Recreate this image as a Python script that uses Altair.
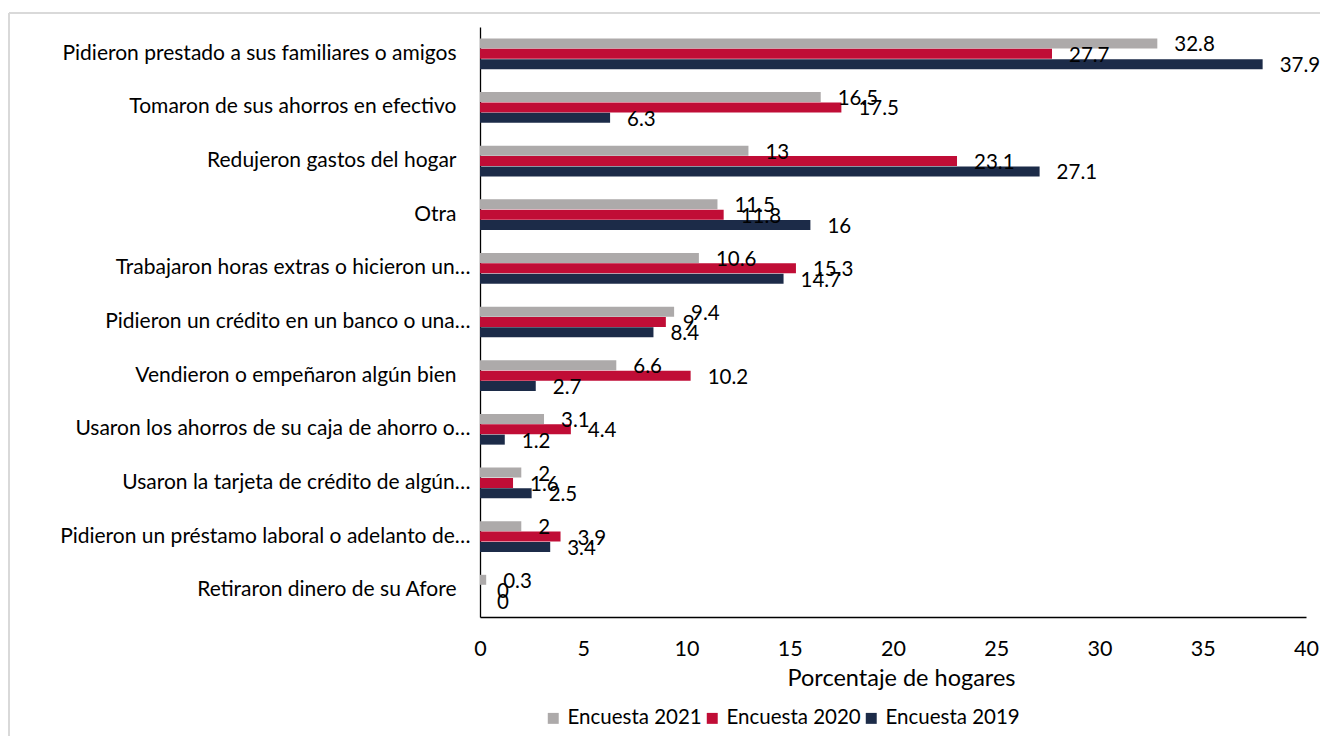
import altair as alt
import pandas as pd

categories = [
    "Pidieron prestado a sus familiares o amigos",
    "Tomaron de sus ahorros en efectivo",
    "Redujeron gastos del hogar",
    "Otra",
    "Trabajaron horas extras o hicieron un…",
    "Pidieron un crédito en un banco o una…",
    "Vendieron o empeñaron algún bien",
    "Usaron los ahorros de su caja de ahorro o…",
    "Usaron la tarjeta de crédito de algún…",
    "Pidieron un préstamo laboral o adelanto de…",
    "Retiraron dinero de su Afore",
]
series = ["Encuesta 2021", "Encuesta 2020", "Encuesta 2019"]
v2021 = [32.8, 16.5, 13, 11.5, 10.6, 9.4, 6.6, 3.1, 2, 2, 0.3]
v2020 = [27.7, 17.5, 23.1, 11.8, 15.3, 9, 10.2, 4.4, 1.6, 3.9, 0]
v2019 = [37.9, 6.3, 27.1, 16, 14.7, 8.4, 2.7, 1.2, 2.5, 3.4, 0]
colors = ["#ADAAAA", "#C00D36", "#1C2B48"]
x_ticks = [0, 5, 10, 15, 20, 25, 30, 35, 40]

rows = []
for s, vals in zip(series, [v2021, v2020, v2019]):
    for c, v in zip(categories, vals):
        rows.append({"cat": c, "serie": s, "valor": v})
df = pd.DataFrame(rows)

FONT = "Lato"

base = alt.Chart(df).encode(
    y=alt.Y("cat:N", sort=categories, title=None,
            scale=alt.Scale(paddingInner=0.42, paddingOuter=0.21),
            axis=alt.Axis(domain=True, domainColor="#000000", domainWidth=1.3,
                          ticks=False, labelFontSize=21, labelColor="#000000",
                          labelFont=FONT, labelLimit=0,
                          labelPadding={"condition": {"test": "indexof(datum.value, '…') >= 0", "value": 10},
                                        "value": 24})),
    yOffset=alt.YOffset("serie:N", sort=series, scale=alt.Scale(paddingInner=0, paddingOuter=0)),
)

bars = base.mark_bar(size=10).encode(
    x=alt.X("valor:Q", title="Porcentaje de hogares",
            scale=alt.Scale(domain=[0, 40], nice=False),
            axis=alt.Axis(values=x_ticks, grid=False, ticks=False, domain=True,
                          domainColor="#000000", domainWidth=1.3, labelFlush=False,
                          labelFontSize=21.5, labelColor="#000000", labelFont=FONT,
                          labelPadding=21, titleFontSize=23.5, titleFont=FONT,
                          titleFontWeight="normal", titleColor="#000000", titlePadding=7,
                          titleX=421)),
    color=alt.Color("serie:N", sort=series,
                    scale=alt.Scale(domain=series, range=colors),
                    legend=alt.Legend(title=None, orient="none", direction="horizontal",
                                      legendX=63, legendY=681, symbolType="square",
                                      symbolSize=120, symbolStrokeWidth=0,
                                      labelFontSize=20.5, labelFont=FONT, labelColor="#000000",
                                      columnPadding=0, labelOffset=4, padding=0)),
)

labels = base.mark_text(align="left", baseline="middle", dx=17, dy=2,
                        fontSize=20.5, font=FONT, color="#000000").encode(
    x=alt.X("valor:Q"),
    text=alt.Text("valor:Q"),
)

frame_df = pd.DataFrame({"k": [0]})
top_line = alt.Chart(frame_df).mark_rule(color="#D9D9D9", strokeWidth=2).encode(
    x=alt.value(-471), x2=alt.value(840), y=alt.value(-14))
left_line = alt.Chart(frame_df).mark_rule(color="#D9D9D9", strokeWidth=2).encode(
    x=alt.value(-471), y=alt.value(-14), y2=alt.value(715))

chart = alt.layer(top_line, left_line, bars, labels).properties(
    width=826, height=590,
    autosize=alt.AutoSizeParams(type="none"),
    padding={"left": 472, "top": 19, "right": 14, "bottom": 119},
).configure_view(stroke=None)

chart.save("out.html", embed_options={"renderer": "svg", "actions": False})
